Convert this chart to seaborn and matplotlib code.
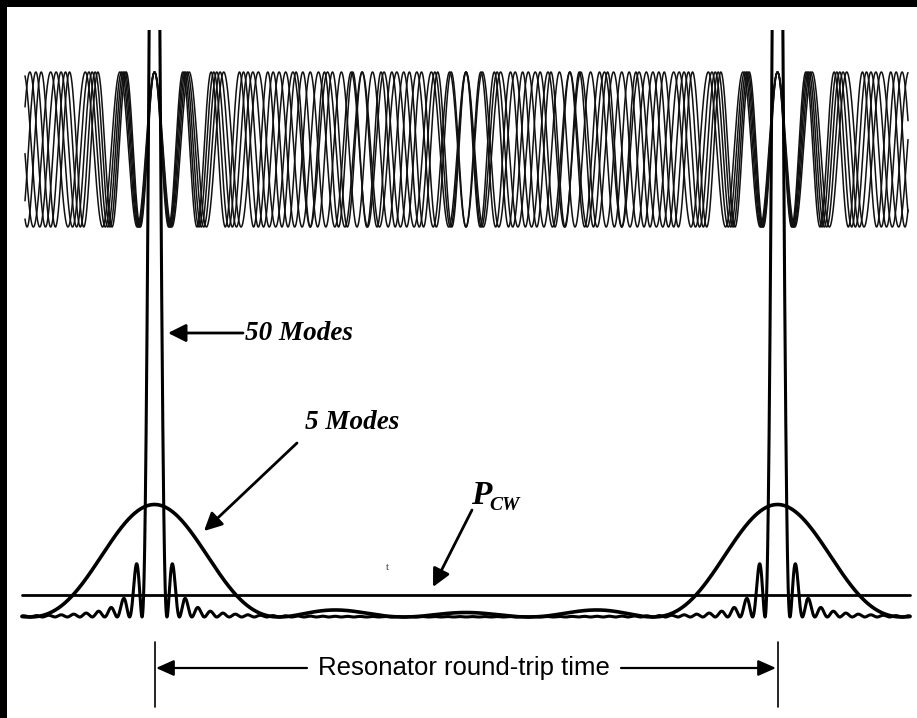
import numpy as np
import pandas as pd
import matplotlib
matplotlib.use("Agg")
import matplotlib.pyplot as plt
import seaborn as sns
from matplotlib.patches import Rectangle

# ---------------- data ----------------
mode_counts = [5, 50]                 # numbers of locked modes in the intensity traces
field_mode_freqs = [18, 19, 20, 21, 22]  # field modes (cycles per round trip) shown on top
cw_level = 1.0                        # average (CW) power level
round_trips = [0.0, 1.0]              # pulse positions (round-trip units)
label_50 = "50 Modes"
label_5 = "5 Modes"
label_p = "P"
label_cw = "CW"
label_rt = "Resonator round-trip time"

# ---------------- geometry helpers (pixel -> data) ----------------
PX0, PPER = 154.5, 623.0      # pixel of first pulse, pixels per round trip
PYB, PYU = 617.0, 22.5        # pixel of zero intensity, pixels per unit
def X(px): return (px - PX0) / PPER
def Y(py): return (PYB - py) / PYU

sns.set_theme(style="white")
plt.rcParams["text.color"] = "black"
sans = "Liberation Sans"
serif = "Liberation Serif"

fig = plt.figure(figsize=(9.17, 7.18), dpi=100, facecolor="black")
ax = fig.add_axes([7/917, 0, 910/917, 711/718])
ax.set_facecolor("white")
for s in ax.spines.values():
    s.set_visible(False)
ax.set_xticks([]); ax.set_yticks([])
ax.set_xlim(X(7), X(917))
ax.set_ylim(Y(718), Y(7))

# ---------------- top: individual field modes ----------------
t_top = np.linspace(X(25), X(908), 12000)
center, amp = Y(149.5), (227 - 72) / 2 / PYU
for f in field_mode_freqs:
    df = pd.DataFrame({"t": t_top, "E": center + amp * np.cos(2 * np.pi * f * t_top)})
    sns.lineplot(data=df, x="t", y="E", ax=ax, color="#111111", lw=1.1,
                 estimator=None, sort=False)

# ---------------- bottom: intensity of N locked modes ----------------
t = np.linspace(X(22), X(910), 30000)
def intensity(N, tt):
    s = np.sin(np.pi * tt)
    num = np.sin(N * np.pi * tt) ** 2
    small = np.abs(s) < 1e-9
    return np.where(small, N, num / (N * np.where(small, 1, s ** 2)))

cap = Y(30)
for N, lw in zip(mode_counts, [2.6, 2.2]):
    df = pd.DataFrame({"t": t, "I": intensity(N, t)})
    sns.lineplot(data=df, x="t", y="I", ax=ax, color="black", lw=lw,
                 estimator=None, sort=False)
    line = ax.lines[-1]
    clip = Rectangle((X(7), Y(718)), X(917) - X(7), cap - Y(718), transform=ax.transData)
    line.set_clip_path(clip)

# CW level
sns.lineplot(x=[X(22), X(910)], y=[cw_level, cw_level], ax=ax, color="black", lw=2.0,
             estimator=None, sort=False)

# ---------------- annotations ----------------
head = dict(arrowstyle="-|>,head_length=0.9,head_width=0.45", color="black", lw=2.0,
            shrinkA=0, shrinkB=0)
ax.text(X(245), Y(333), label_50, fontfamily=serif, fontweight="bold", fontstyle="italic",
        fontsize=19.5, ha="left", va="center", color="black")
ax.annotate("", xy=(X(168), Y(333)), xytext=(X(243), Y(333)), arrowprops=head)

ax.text(X(305), Y(422), label_5, fontfamily=serif, fontweight="bold", fontstyle="italic",
        fontsize=19.5, ha="left", va="center", color="black")
ax.annotate("", xy=(X(204), Y(531)), xytext=(X(297), Y(443)), arrowprops=head)

ax.text(X(471), Y(495), label_p, fontfamily=serif, fontweight="bold", fontstyle="italic",
        fontsize=24, ha="left", va="center", color="black")
ax.text(X(489), Y(505), label_cw, fontfamily=serif, fontweight="bold", fontstyle="italic",
        fontsize=14, ha="left", va="center", color="black")
ax.annotate("", xy=(X(433), Y(587)), xytext=(X(472), Y(510)), arrowprops=head)

ax.text(X(387), Y(568), "t", fontfamily=serif, fontsize=8, ha="center", va="center",
        color="#333333")

# round-trip dimension
for xp in round_trips:
    ax.plot([xp, xp], [Y(642), Y(707)], color="black", lw=1.2)
dim = dict(arrowstyle="-|>,head_length=0.9,head_width=0.4", color="black", lw=1.6,
           shrinkA=0, shrinkB=0)
off = X(156) - X(154.5)
ax.annotate("", xy=(round_trips[0] + off, Y(668)), xytext=(X(307), Y(668)), arrowprops=dim)
ax.annotate("", xy=(round_trips[1] - off, Y(668)), xytext=(X(621), Y(668)), arrowprops=dim)
ax.text(X(464), Y(668), label_rt, fontfamily=sans, fontsize=18.5, ha="center", va="center",
        color="black")

fig.savefig("out.png", dpi=100, facecolor=fig.get_facecolor())
